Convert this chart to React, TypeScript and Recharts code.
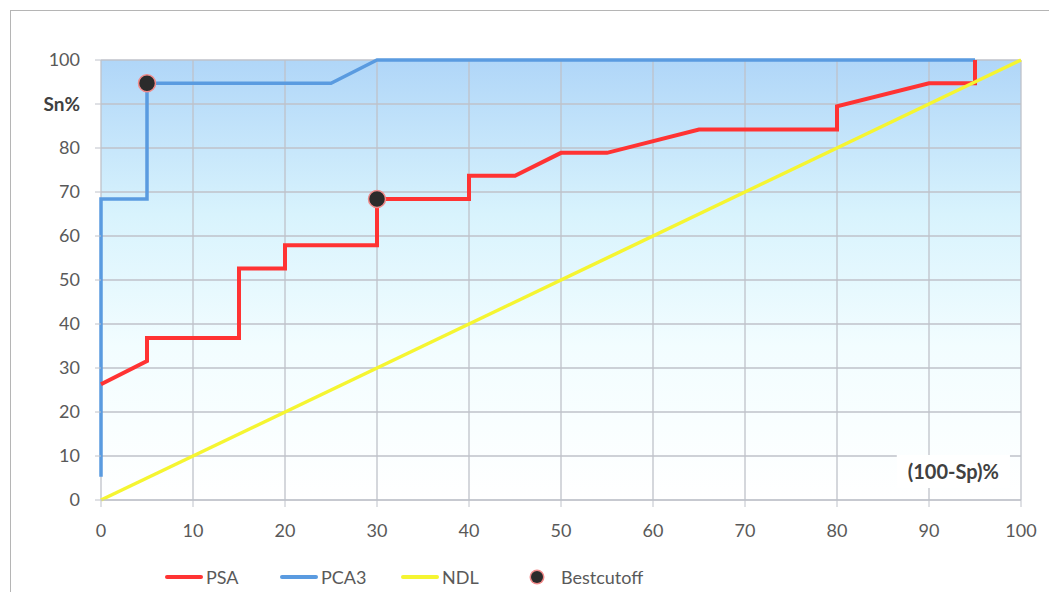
import React from "react";
import {
  ComposedChart,
  Line,
  Scatter,
  XAxis,
  YAxis,
  CartesianGrid,
  ReferenceArea,
} from "recharts";

// ROC curves
const psaX = [0, 5, 5, 15, 15, 20, 20, 30, 30, 40, 40, 45, 50, 55, 65, 80, 80, 90, 95, 95];
const psaY = [26.3, 31.6, 36.8, 36.8, 52.6, 52.6, 57.9, 57.9, 68.4, 68.4, 73.7, 73.7, 78.9, 78.9, 84.2, 84.2, 89.5, 94.7, 94.7, 100];

const pca3X = [0, 0, 5, 5, 25, 30, 95];
const pca3Y = [5.3, 68.4, 68.4, 94.7, 94.7, 100, 100];

const ndlX = [0, 100];
const ndlY = [0, 100];

const cutoffX = [5, 30];
const cutoffY = [94.7, 68.4];

const axisTicks = [0, 10, 20, 30, 40, 50, 60, 70, 80, 90, 100];

const toPoints = (xs: number[], ys: number[]) => xs.map((x, i) => ({ x, y: ys[i] }));

const psaData = toPoints(psaX, psaY);
const pca3Data = toPoints(pca3X, pca3Y);
const ndlData = toPoints(ndlX, ndlY);
const cutoffData = toPoints(cutoffX, cutoffY);

const FONT = "Lato, 'Open Sans', sans-serif";
const TEXT = "#595959";
const GRID = "#bfc2ca";

const YTick = (props: any) => {
  const { x, y, payload } = props;
  const isLabel = payload.value === 90;
  return (
    <text
      x={x}
      y={y}
      dy="0.35em"
      textAnchor="end"
      fontFamily={FONT}
      fontSize={isLabel ? 19 : 18}
      fontWeight={isLabel ? 700 : 400}
      fill={isLabel ? "#404040" : TEXT}
    >
      {isLabel ? "Sn%" : payload.value}
    </text>
  );
};

const CutoffDot = (props: any) => {
  const { cx, cy } = props;
  return <circle cx={cx} cy={cy} r={8.5} fill="#2b2b2b" stroke="#f08a8a" strokeWidth={1.5} />;
};

const legendItems = [
  { name: "PSA", color: "#ff3333", left: 165, kind: "line" },
  { name: "PCA3", color: "#5a9be0", left: 280, kind: "line" },
  { name: "NDL", color: "#f5f531", left: 401, kind: "line" },
  { name: "Bestcutoff", color: "#2b2b2b", left: 529, kind: "dot" },
];

export default function App() {
  return (
    <div style={{ position: "relative", width: 1057, height: 600, margin: -8, background: "#fff", overflow: "hidden" }}>
      <div
        style={{
          position: "absolute",
          left: 10,
          top: 10,
          width: 1100,
          height: 650,
          borderLeft: "1.5px solid #b5b5b5",
          borderTop: "1.5px solid #b5b5b5",
        }}
      />
      <div style={{ position: "absolute", left: 0, top: 0 }}>
        <ComposedChart width={1057} height={600} margin={{ top: 60, right: 36, bottom: 70, left: 0 }}>
          <defs>
            <linearGradient id="plotBg" x1="0" y1="0" x2="0" y2="1">
              <stop offset="0%" stopColor="#b0d6f8" />
              <stop offset="35%" stopColor="#d8f3fd" />
              <stop offset="65%" stopColor="#f2fdff" />
              <stop offset="100%" stopColor="#ffffff" />
            </linearGradient>
          </defs>
          <CartesianGrid stroke={GRID} strokeWidth={1.3} fill="url(#plotBg)" fillOpacity={1} />
          <XAxis
            type="number"
            dataKey="x"
            domain={[0, 100]}
            ticks={axisTicks}
            height={30}
            tickSize={7}
            tickMargin={17}
            stroke={GRID}
            tick={{ fill: TEXT, fontSize: 18, fontFamily: FONT }}
            interval={0}
          />
          <YAxis
            type="number"
            dataKey="y"
            domain={[0, 100]}
            ticks={axisTicks}
            width={101}
            tickSize={6}
            tickMargin={15}
            axisLine={false}
            tickLine={{ stroke: GRID }}
            tick={<YTick />}
            interval={0}
          />
          <ReferenceArea
            x1={100}
            x2={100}
            y1={0}
            y2={100}
            fill="none"
            stroke={GRID}
            strokeWidth={1.3}
            ifOverflow="visible"
          />
          <ReferenceArea
            x1={86.5}
            x2={98.8}
            y1={2.7}
            y2={10.2}
            fill="#ffffff"
            fillOpacity={1}
            stroke="none"
            label={{
              value: "(100-Sp)%",
              position: "center",
              fill: "#404040",
              fontSize: 20,
              fontWeight: 700,
              fontFamily: FONT,
            }}
          />
          <Line
            data={pca3Data}
            dataKey="y"
            type="linear"
            stroke="#5a9be0"
            strokeWidth={3.5}
            dot={false}
            activeDot={false}
            isAnimationActive={false}
          />
          <Line
            data={psaData}
            dataKey="y"
            type="linear"
            stroke="#ff3333"
            strokeWidth={4}
            dot={false}
            activeDot={false}
            isAnimationActive={false}
          />
          <Line
            data={ndlData}
            dataKey="y"
            type="linear"
            stroke="#f5f531"
            strokeWidth={3.5}
            dot={false}
            activeDot={false}
            isAnimationActive={false}
          />
          <Scatter data={cutoffData} dataKey="y" shape={<CutoffDot />} isAnimationActive={false} />
        </ComposedChart>
      </div>
      {legendItems.map((item) => (
        <div
          key={item.name}
          style={{
            position: "absolute",
            left: item.left,
            top: 565,
            height: 24,
            display: "flex",
            alignItems: "center",
            fontFamily: FONT,
            fontSize: 18,
            color: TEXT,
          }}
        >
          {item.kind === "line" ? (
            <span
              style={{
                display: "inline-block",
                width: 38,
                height: 4,
                borderRadius: 2,
                background: item.color,
                marginRight: 3,
              }}
            />
          ) : (
            <span
              style={{
                display: "inline-block",
                width: 12,
                height: 12,
                borderRadius: 6,
                background: item.color,
                boxShadow: "0 0 0 1.5px #f08a8a",
                marginLeft: 2,
                marginRight: 18,
              }}
            />
          )}
          <span>{item.name}</span>
        </div>
      ))}
    </div>
  );
}
